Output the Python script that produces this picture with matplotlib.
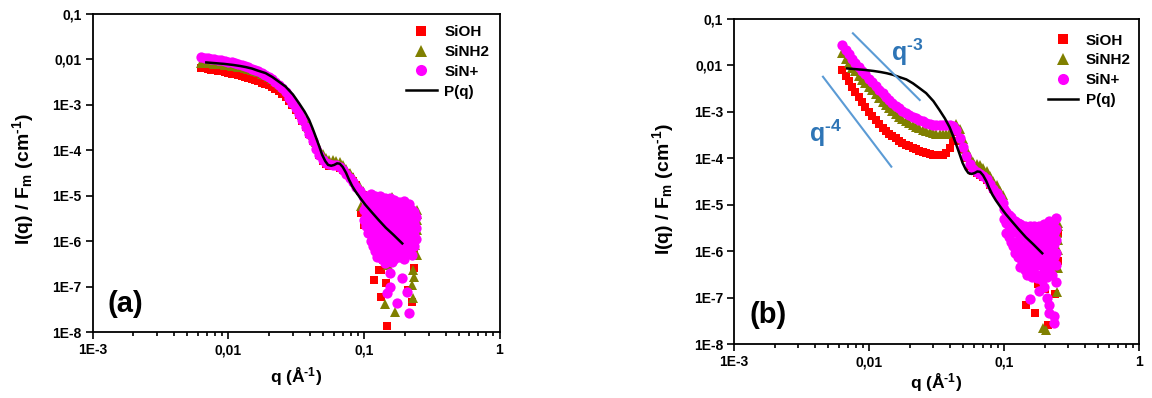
import matplotlib
matplotlib.use('Agg')
import matplotlib.pyplot as plt
from matplotlib.lines import Line2D
from matplotlib.ticker import LogLocator, NullFormatter, NullLocator

# ---------------- data ----------------
q_grid = [0.0063, 0.0067, 0.0071, 0.0075, 0.0079, 0.0084, 0.0089, 0.0094, 0.0100, 0.0106,
          0.0112, 0.0119, 0.0126, 0.0133, 0.0141, 0.0149, 0.0158, 0.0167, 0.0177, 0.0188,
          0.0199, 0.0211, 0.0223, 0.0236, 0.0250, 0.0265, 0.0281, 0.0297, 0.0315, 0.0333,
          0.0353, 0.0374, 0.0396, 0.0419, 0.0444, 0.0470, 0.0498, 0.0527, 0.0558, 0.0591,
          0.0626, 0.0663, 0.0702, 0.0743, 0.0787, 0.0833, 0.0882, 0.0934, 0.0989]

# panel (a)
a_sioh = [0.0066, 0.0064, 0.0062, 0.0060, 0.0058, 0.0057, 0.0055, 0.0053, 0.0051, 0.0049,
          0.0047, 0.0045, 0.0043, 0.0041, 0.0039, 0.0037, 0.0035, 0.0033, 0.0031, 0.0029,
          0.0027, 0.0025, 0.0022, 0.0020, 0.0017, 0.0015, 0.00125, 0.00100, 0.00078, 0.00060,
          0.00045, 0.00032, 0.00023, 0.000160, 0.000112, 8.0e-5, 6.0e-5, 5.0e-5, 4.6e-5, 4.6e-5,
          4.5e-5, 4.2e-5, 3.7e-5, 3.2e-5, 2.6e-5, 2.1e-5, 1.7e-5, 1.3e-5, 1.05e-5]
a_sinh2 = [0.0085, 0.0084, 0.0083, 0.0082, 0.0080, 0.0079, 0.0078, 0.0076, 0.0075, 0.0073,
           0.0071, 0.0069, 0.0067, 0.0064, 0.0062, 0.0059, 0.0056, 0.0053, 0.0049, 0.0045,
           0.0041, 0.0037, 0.0033, 0.0029, 0.0025, 0.0021, 0.0017, 0.00135, 0.00105, 0.00080,
           0.00060, 0.00044, 0.00031, 0.00022, 0.000150, 0.000108, 8.2e-5, 6.8e-5, 6.3e-5, 6.2e-5,
           6.0e-5, 5.6e-5, 4.8e-5, 4.0e-5, 3.2e-5, 2.6e-5, 2.0e-5, 1.6e-5, 1.3e-5]
a_sinp = [0.0113, 0.0110, 0.0107, 0.0104, 0.0101, 0.0098, 0.0095, 0.0093, 0.0090, 0.0086,
          0.0083, 0.0079, 0.0075, 0.0071, 0.0067, 0.0063, 0.0059, 0.0055, 0.0051, 0.0046,
          0.0042, 0.0037, 0.0032, 0.0028, 0.0023, 0.0019, 0.00145, 0.00113, 0.00086, 0.00064,
          0.00047, 0.00033, 0.00023, 0.000160, 0.000110, 8.0e-5, 6.2e-5, 5.3e-5, 5.0e-5, 4.9e-5,
          4.7e-5, 4.3e-5, 3.7e-5, 3.1e-5, 2.5e-5, 2.0e-5, 1.6e-5, 1.25e-5, 1.0e-5]

# high-q noisy points, {q: [I values]}
a_cloud_sioh = {0.0947: [4.1e-6], 0.100: [2.27e-6], 0.105: [6e-6], 0.119: [1.4e-7], 0.125: [3e-6],
                0.129: [2.3e-7], 0.133: [6e-8, 2.3e-7], 0.1445: [1.2e-7], 0.149: [1.4e-8],
                0.170: [1e-6], 0.200: [3e-6], 0.210: [8.4e-8], 0.2265: [4.6e-8],
                0.233: [6.4e-7, 2.6e-7], 0.240: [1.5e-6, 4e-6]}
a_cloud_sinh2 = {0.095: [6e-6], 0.105: [7e-6], 0.120: [1.5e-6], 0.135: [6e-6], 0.140: [4e-7],
                 0.1427: [4.1e-8], 0.150: [3e-7], 0.160: [9.5e-6], 0.169: [2.8e-8], 0.190: [5e-7],
                 0.200: [2e-6], 0.2265: [1.08e-7], 0.229: [5.6e-8], 0.230: [2.3e-7], 0.233: [1.65e-7],
                 0.240: [2.9e-6, 1.3e-6, 8.2e-7], 0.245: [5e-6, 4e-6, 3e-6, 1.77e-6, 5e-7]}
a_cloud_sinp = {0.100: [9e-6, 5e-6, 3e-6],
                0.104: [1.0e-5, 6e-6, 3.5e-6, 2.2e-6],
                0.108: [8e-6, 4.5e-6, 2.5e-6, 1.5e-6],
                0.112: [1.1e-5, 6e-6, 3.5e-6, 2e-6, 1.0e-6],
                0.116: [9e-6, 5e-6, 2.8e-6, 1.5e-6, 8e-7],
                0.121: [1.0e-5, 6e-6, 3.5e-6, 2e-6, 1.1e-6, 6e-7],
                0.126: [8e-6, 4.5e-6, 2.5e-6, 1.4e-6, 8e-7, 4.5e-7],
                0.131: [1.0e-5, 6e-6, 3.5e-6, 2e-6, 1.1e-6, 6e-7],
                0.137: [8e-6, 4.5e-6, 2.5e-6, 1.4e-6, 8e-7, 4e-7],
                0.143: [9e-6, 5e-6, 3e-6, 1.7e-6, 1e-6, 5.5e-7, 3.3e-7],
                0.149: [7e-6, 4e-6, 2.2e-6, 1.3e-6, 7e-7, 7.2e-8],
                0.155: [9e-6, 5e-6, 3e-6, 1.7e-6, 1e-6, 5e-7, 2.0e-7, 1.0e-7],
                0.161: [7e-6, 4e-6, 2.2e-6, 1.3e-6, 7e-7, 3.5e-7],
                0.168: [8e-6, 4.5e-6, 2.6e-6, 1.5e-6, 8e-7, 4e-7],
                0.175: [6e-6, 3.5e-6, 2e-6, 1.1e-6, 6e-7, 4.4e-8],
                0.182: [7.5e-6, 4.2e-6, 2.4e-6, 1.4e-6, 8e-7, 4.5e-7],
                0.190: [6e-6, 3.5e-6, 2e-6, 1.1e-6, 6e-7, 1.6e-7],
                0.198: [7.8e-6, 4.5e-6, 2.5e-6, 1.4e-6, 8e-7, 4e-7],
                0.207: [5.5e-6, 3.2e-6, 1.8e-6, 1e-6, 5.5e-7, 7.7e-8],
                0.216: [6.5e-6, 3.8e-6, 2.1e-6, 1.2e-6, 7e-7, 2.7e-8],
                0.225: [5e-6, 3e-6, 1.7e-6, 1e-6, 5e-7],
                0.234: [4.5e-6, 2.5e-6, 1.4e-6, 8e-7],
                0.242: [3.5e-6, 2e-6, 1.1e-6]}

# panel (b)
b_sioh = [0.0078, 0.0060, 0.0046, 0.0035, 0.0027, 0.0021, 0.00165, 0.00128, 0.00100, 0.00080,
          0.00066, 0.00055, 0.00046, 0.00039, 0.00034, 0.00030, 0.00027, 0.00024, 0.00021, 0.000195,
          0.000180, 0.000168, 0.000155, 0.000145, 0.000137, 0.000130, 0.000125, 0.000120, 0.000117, 0.000115,
          0.000118, 0.000130, 0.000165, 0.00024, 0.00036, 0.00024, 0.000160, 0.000100, 6.8e-5, 5.3e-5,
          4.8e-5, 4.4e-5, 4.0e-5, 3.4e-5, 2.7e-5, 2.2e-5, 1.75e-5, 1.4e-5, 1.1e-5]
b_sinh2 = [0.0185, 0.0140, 0.0112, 0.0090, 0.0075, 0.0060, 0.0049, 0.0042, 0.0034, 0.0029,
           0.0024, 0.0020, 0.00165, 0.00140, 0.00120, 0.00103, 0.00090, 0.00079, 0.00070, 0.00063,
           0.00057, 0.00052, 0.00048, 0.00044, 0.00041, 0.00038, 0.00036, 0.00035, 0.00034, 0.00033,
           0.00033, 0.00034, 0.00037, 0.00047, 0.00056, 0.00042, 0.00026, 0.000155, 0.000105, 8.3e-5,
           7.5e-5, 7.0e-5, 6.2e-5, 5.2e-5, 4.2e-5, 3.3e-5, 2.6e-5, 2.0e-5, 1.6e-5]
b_sinp = [0.0270, 0.0215, 0.0172, 0.0138, 0.0115, 0.0093, 0.0076, 0.0064, 0.0052, 0.0044,
          0.0036, 0.0030, 0.0025, 0.0021, 0.00180, 0.00155, 0.00135, 0.00119, 0.00106, 0.00095,
          0.00086, 0.00079, 0.00072, 0.00067, 0.00062, 0.00058, 0.00055, 0.00053, 0.00052, 0.00051,
          0.00051, 0.00051, 0.00052, 0.00050, 0.00040, 0.00027, 0.000175, 0.000110, 7.5e-5, 5.8e-5,
          5.0e-5, 4.6e-5, 4.2e-5, 3.5e-5, 2.8e-5, 2.2e-5, 1.75e-5, 1.4e-5, 1.1e-5]

b_cloud_sioh = {0.120: [1.5e-6], 0.1463: [6.9e-8], 0.1688: [4.6e-8], 0.180: [2e-7], 0.200: [1.5e-7],
                0.212: [2.6e-8], 0.240: [1.2e-7], 0.250: [6e-7, 2.5e-6]}
b_cloud_sinh2 = {0.130: [1.2e-6], 0.155: [3.06e-7], 0.165: [3.5e-7], 0.1945: [2.2e-8], 0.2058: [2.0e-8],
                 0.210: [4e-7], 0.245: [2.5e-6, 1.3e-7], 0.250: [4e-6, 3.4e-6, 1.74e-6, 1.06e-6, 4.3e-7]}
b_cloud_sinp = {0.100: [8e-6, 5e-6],
                0.104: [7e-6, 4e-6, 2.5e-6],
                0.108: [6e-6, 3.5e-6, 2e-6],
                0.112: [5.5e-6, 3e-6, 1.6e-6],
                0.116: [4.5e-6, 2.6e-6, 1.3e-6],
                0.121: [4.5e-6, 2.8e-6, 1.6e-6, 9e-7],
                0.126: [4e-6, 2.4e-6, 1.3e-6, 7.6e-7],
                0.131: [3.8e-6, 2.2e-6, 1.3e-6, 7.6e-7, 4.5e-7],
                0.137: [3.5e-6, 2e-6, 1.1e-6, 6e-7],
                0.143: [3.5e-6, 2e-6, 1.2e-6, 7e-7, 4e-7],
                0.149: [3.2e-6, 1.8e-6, 1e-6, 5.5e-7, 3e-7],
                0.155: [3.4e-6, 2e-6, 1.1e-6, 6e-7, 3.3e-7, 9.2e-8],
                0.161: [3e-6, 1.7e-6, 9e-7, 5e-7, 2.8e-7],
                0.168: [3.5e-6, 2e-6, 1.1e-6, 6e-7, 3.4e-7],
                0.175: [3e-6, 1.7e-6, 9e-7, 5e-7, 2.6e-7],
                0.182: [3.5e-6, 2e-6, 1.1e-6, 6e-7, 3e-7, 1.4e-7],
                0.190: [3e-6, 1.7e-6, 9e-7, 5e-7, 2.4e-7],
                0.198: [3.8e-6, 2.2e-6, 1.2e-6, 6.5e-7, 3.5e-7, 1.7e-7],
                0.207: [3.2e-6, 1.8e-6, 1e-6, 5.5e-7, 2.8e-7, 1.0e-7],
                0.216: [4.5e-6, 2.5e-6, 1.4e-6, 8e-7, 4e-7, 6.9e-8, 4.6e-8],
                0.225: [3.5e-6, 2e-6, 1.1e-6, 6e-7, 3e-7],
                0.234: [4.5e-6, 2.5e-6, 1.4e-6, 7.5e-7, 2.9e-8, 4e-8],
                0.242: [5.2e-6, 3e-6, 1.7e-6, 9e-7, 5e-7, 2.2e-7]}

# form factor P(q)
pq_q = [0.0069, 0.0080, 0.0093, 0.0108, 0.0122, 0.0135, 0.0150, 0.0165, 0.0189, 0.0212,
        0.0238, 0.0265, 0.0300, 0.0333, 0.0365, 0.0395, 0.0420, 0.0442, 0.0468, 0.0493,
        0.0520, 0.0545, 0.0575, 0.0605, 0.0635, 0.0665, 0.0700, 0.0740, 0.0776, 0.0820,
        0.0869, 0.0940, 0.1029, 0.1150, 0.1288, 0.1450, 0.1650, 0.1920]
pq_I = [0.0086, 0.0083, 0.0080, 0.0076, 0.0072, 0.0068, 0.0063, 0.0057, 0.0050, 0.0041,
        0.0032, 0.00253, 0.0017, 0.00109, 0.00072, 0.00047, 0.00030, 0.00020, 0.000125, 8.0e-5,
        5.8e-5, 4.8e-5, 4.6e-5, 4.8e-5, 5.2e-5, 5.1e-5, 4.3e-5, 3.2e-5, 2.3e-5, 1.65e-5,
        1.25e-5, 9.0e-6, 6.3e-6, 4.3e-6, 2.93e-6, 2.0e-6, 1.4e-6, 9.0e-7]

series_names = ['SiOH', 'SiNH2', 'SiN+', 'P(q)']
x_ticks = [1e-3, 1e-2, 1e-1, 1]
x_tick_labels = ['1E-3', '0,01', '0,1', '1']
y_ticks = [1e-8, 1e-7, 1e-6, 1e-5, 1e-4, 1e-3, 1e-2, 1e-1]
y_tick_labels = ['1E-8', '1E-7', '1E-6', '1E-5', '1E-4', '1E-3', '0,01', '0,1']

# ---------------- style ----------------
plt.rcParams.update({
    'font.family': ['Liberation Sans', 'DejaVu Sans'],
    'font.weight': 'bold',
    'axes.labelweight': 'bold',
    'mathtext.fontset': 'custom',
    'mathtext.rm': 'Liberation Sans:bold',
    'mathtext.it': 'Liberation Sans:bold',
    'mathtext.bf': 'Liberation Sans:bold',
    'mathtext.default': 'regular',
})

C_RED, C_OLIVE, C_MAG = '#FF0000', '#808000', '#FF00FF'
BLUE_LINE, BLUE_TEXT = '#5B9BD5', '#2E75B6'

W, H = 1152, 398
fig = plt.figure(figsize=(W / 100, H / 100), dpi=100)


def px_axes(left, right, top, bottom):
    return fig.add_axes([left / W, (H - bottom) / H, (right - left) / W, (bottom - top) / H])


def expand(cloud):
    qs, vs = [], []
    for q, vals in cloud.items():
        for v in vals:
            qs.append(q)
            vs.append(v)
    return qs, vs


def draw_panel(ax, red, olive, mag, red_c, olive_c, mag_c, tag, leg_anchor,
               xpad, ylab_xy):
    for vals, cloud, mk, ms, col in [(red, red_c, 's', 6.3, C_RED),
                                     (olive, olive_c, '^', 7.4, C_OLIVE),
                                     (mag, mag_c, 'o', 7.4, C_MAG)]:
        cq, cv = expand(cloud)
        ax.plot(q_grid + cq, vals + cv, ls='none', marker=mk, ms=ms, color=col, mew=0)
    ax.plot(pq_q, pq_I, color='k', lw=1.8)
    ax.set_xscale('log')
    ax.set_yscale('log')
    ax.set_xlim(1e-3, 1)
    ax.set_ylim(1e-8, 0.1)
    ax.set_xticks(x_ticks, x_tick_labels)
    ax.set_yticks(y_ticks, y_tick_labels)
    ax.xaxis.set_minor_locator(LogLocator(base=10, subs=range(2, 10), numticks=20))
    ax.xaxis.set_minor_formatter(NullFormatter())
    ax.yaxis.set_minor_locator(NullLocator())
    ax.tick_params(which='both', direction='out', top=False, right=False, width=1.2,
                   labelsize=10, pad=3)
    ax.tick_params(which='major', length=5)
    ax.tick_params(which='minor', length=3)
    for s in ax.spines.values():
        s.set_linewidth(1.3)
    ax.set_xlabel(r'q (Å$^{\text{-1}}$)', fontsize=12.5, labelpad=xpad)
    ax.set_ylabel(r'I(q) / F$_{m}$ (cm$^{\text{-1}}$)', fontsize=14)
    ax.yaxis.set_label_coords(*ylab_xy)
    ax.text(0.038, 0.09, tag, transform=ax.transAxes, fontsize=21, va='center', ha='left')
    handles = [Line2D([], [], ls='none', marker='s', ms=7, color=C_RED, mew=0),
               Line2D([], [], ls='none', marker='^', ms=8, color=C_OLIVE, mew=0),
               Line2D([], [], ls='none', marker='o', ms=8, color=C_MAG, mew=0),
               Line2D([], [], color='k', lw=1.8)]
    ax.legend(handles, series_names, loc='upper right', bbox_to_anchor=leg_anchor,
              frameon=False, fontsize=11, handlelength=2.0, handletextpad=0.5,
              labelspacing=0.38, borderaxespad=0, borderpad=0)


ax_a = px_axes(92.5, 499.5, 14, 332.3)
draw_panel(ax_a, a_sioh, a_sinh2, a_sinp, a_cloud_sioh, a_cloud_sinh2, a_cloud_sinp,
           '(a)', (0.975, 0.965), 6, (-0.139, 0.48))

ax_b = px_axes(734, 1139, 19, 344)
draw_panel(ax_b, b_sioh, b_sinh2, b_sinp, b_cloud_sioh, b_cloud_sinh2, b_cloud_sinp,
           '(b)', (0.98, 0.955), 2, (-0.143, 0.475))

# slope guides in panel (b)
ax_b.plot([0.0076, 0.02375], [0.0492, 0.0018], color=BLUE_LINE, lw=1.5)
ax_b.plot([0.00456, 0.01463], [0.00571, 6.6e-5], color=BLUE_LINE, lw=1.5)
ax_b.text(0.0145, 0.0195, r'q$^{\text{-3}}$', color=BLUE_TEXT, fontsize=18, ha='left', va='center')
ax_b.text(0.0036, 3.5e-4, r'q$^{\text{-4}}$', color=BLUE_TEXT, fontsize=18, ha='left', va='center')

fig.savefig('out.png', dpi=100)
